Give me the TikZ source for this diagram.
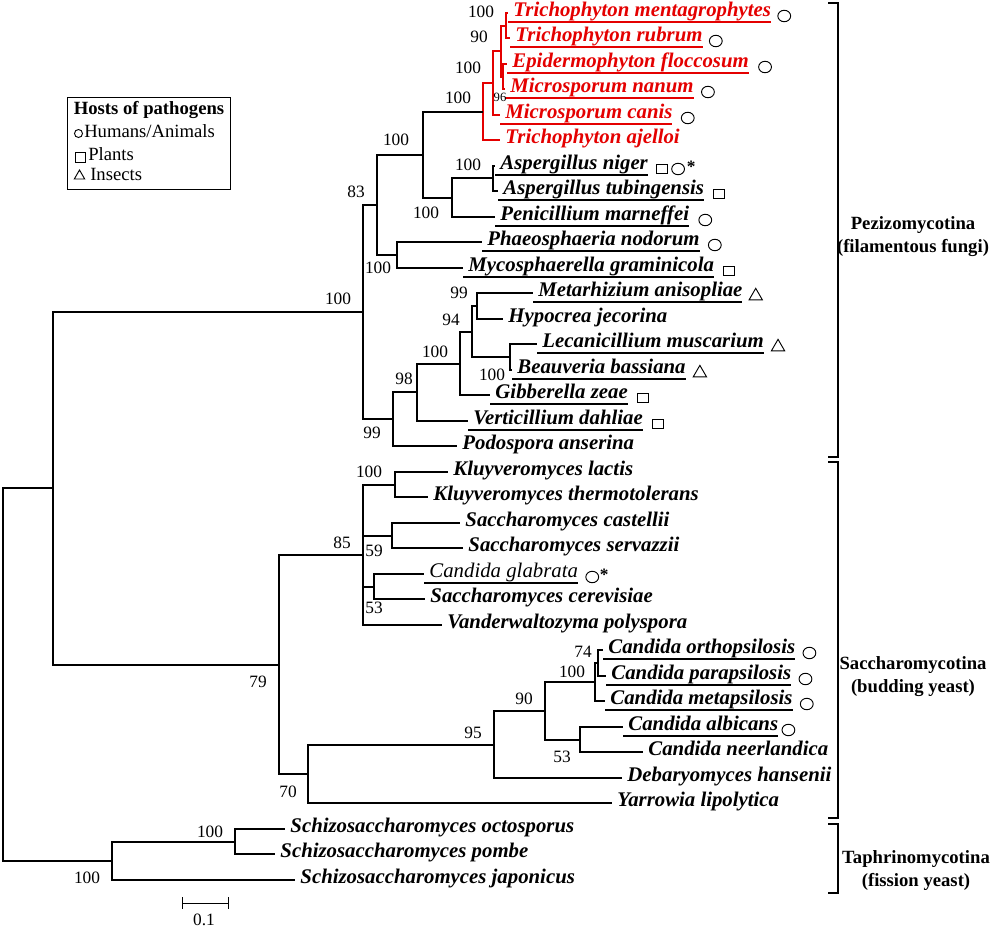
\documentclass[tikz,border=0pt]{standalone}
\usepackage{fontspec}
\setmainfont{Liberation Serif}
\usetikzlibrary{calc,shapes.geometric}
\definecolor{dred}{RGB}{228,0,0}
\newcommand\ulnm[1]{\setbox0\hbox{\ #1}\rlap{\rule[-5.4pt]{\wd0}{1.45pt}}\box0}
\newcommand\plnm[1]{\ #1}
\begin{document}
\begin{tikzpicture}[x=0.75pt,y=-0.75pt,
  br/.style={line width=1.5pt, line join=miter},
  rbr/.style={line width=1.5pt, draw=dred},
  tip/.style={anchor=mid west, inner sep=0pt, font=\fontsize{15.6}{18}\selectfont\bfseries\itshape},
  rtip/.style={tip, text=dred},
  tipr/.style={anchor=mid west, inner sep=0pt, font=\fontsize{15.6}{18}\selectfont\itshape},
  boot/.style={inner sep=0pt, font=\fontsize{13}{15}\selectfont},
  bootsm/.style={inner sep=0pt, font=\fontsize{9.5}{11}\selectfont},
  hc/.style={ellipse, draw, line width=0.7pt, minimum width=9.6pt, minimum height=8.6pt, inner sep=0pt},
  hs/.style={rectangle, draw, line width=0.7pt, minimum width=8pt, minimum height=7.4pt, inner sep=0pt},
  ht/.style={regular polygon, regular polygon sides=3, draw, line width=0.7pt, minimum size=11.5pt, inner sep=0pt},
  ast/.style={inner sep=0pt, font=\fontsize{13}{15}\selectfont\bfseries},
  brk/.style={line width=0.9pt},
  clade/.style={align=center, inner sep=0pt, font=\fontsize{14}{17.25}\selectfont\bfseries},
  leg/.style={inner sep=0pt, font=\fontsize{14}{16}\selectfont}
]
\useasboundingbox (0,0) rectangle (1004,929);

% ---------- tips ----------
\node[rtip] (t1) at (508,13) {\ulnm{Trichophyton mentagrophytes}};
\node[rtip] (t2) at (510,38) {\ulnm{Trichophyton rubrum}};
\node[rtip] (t3) at (507,64) {\ulnm{Epidermophyton floccosum}};
\node[rtip] (t4) at (505,89) {\ulnm{Microsporum nanum}};
\node[rtip] (t5) at (500,115) {\ulnm{Microsporum canis}};
\node[rtip] (t6) at (500,140) {\plnm{Trichophyton ajelloi}};
\node[tip] (t7) at (495,166) {\ulnm{Aspergillus niger}};
\node[tip] (t8) at (498,191) {\ulnm{Aspergillus tubingensis}};
\node[tip] (t9) at (495,217) {\ulnm{Penicillium marneffei}};
\node[tip] (t10) at (482,242) {\ulnm{Phaeosphaeria nodorum}};
\node[tip] (t11) at (463,268) {\ulnm{Mycosphaerella graminicola}};
\node[tip] (t12) at (533,293) {\ulnm{Metarhizium anisopliae}};
\node[tip] (t13) at (503,319) {\plnm{Hypocrea jecorina}};
\node[tip] (t14) at (537,344) {\ulnm{Lecanicillium muscarium}};
\node[tip] (t15) at (512,370) {\ulnm{Beauveria bassiana}};
\node[tip] (t16) at (490,395) {\ulnm{Gibberella zeae}};
\node[tip] (t17) at (468,421) {\ulnm{Verticillium dahliae}};
\node[tip] (t18) at (457,446) {\plnm{Podospora anserina}};
\node[tip] (t19) at (448,472) {\plnm{Kluyveromyces lactis}};
\node[tip] (t20) at (428,497) {\plnm{Kluyveromyces thermotolerans}};
\node[tip] (t21) at (460,523) {\plnm{Saccharomyces castellii}};
\node[tip] (t22) at (463,548) {\plnm{Saccharomyces servazzii}};
\node[tipr] (t23) at (424,574) {\ulnm{Candida glabrata}};
\node[tip] (t24) at (425,599) {\plnm{Saccharomyces cerevisiae}};
\node[tip] (t25) at (442,625) {\plnm{Vanderwaltozyma polyspora}};
\node[tip] (t26) at (603,650) {\ulnm{Candida orthopsilosis}};
\node[tip] (t27) at (606,676) {\ulnm{Candida parapsilosis}};
\node[tip] (t28) at (605,701) {\ulnm{Candida metapsilosis}};
\node[tip] (t29) at (623,727) {\ulnm{Candida albicans}};
\node[tip] (t30) at (643,752) {\plnm{Candida neerlandica}};
\node[tip] (t31) at (622,778) {\plnm{Debaryomyces hansenii}};
\node[tip] (t32) at (612,803) {\plnm{Yarrowia lipolytica}};
\node[tip] (t33) at (285,829) {\plnm{Schizosaccharomyces octosporus}};
\node[tip] (t34) at (275,854) {\plnm{Schizosaccharomyces pombe}};
\node[tip] (t35) at (295,880) {\plnm{Schizosaccharomyces japonicus}};

% ---------- internal nodes ----------
\coordinate (A) at (506,26);
\coordinate (B) at (503,77);
\coordinate (C) at (501,51);
\coordinate (D) at (493,83);
\coordinate (E) at (483,112);
\coordinate (F) at (493,178);
\coordinate (G) at (452,198);
\coordinate (H) at (423,155);
\coordinate (I) at (397,255);
\coordinate (J) at (377,205);
\coordinate (K) at (477,306);
\coordinate (L) at (510,357);
\coordinate (M) at (472,332);
\coordinate (N) at (460,364);
\coordinate (O) at (417,392);
\coordinate (P) at (393,419);
\coordinate (Q) at (363,312);
\coordinate (R) at (395,485);
\coordinate (S) at (392,536);
\coordinate (T) at (374,587);
\coordinate (U) at (363,555);
\coordinate (V) at (598,663);
\coordinate (W) at (595,682);
\coordinate (X) at (580,740);
\coordinate (Y) at (545,711);
\coordinate (Z) at (494,745);
\coordinate (AA) at (308,774);
\coordinate (AB) at (279,665);
\coordinate (AC) at (53,488);
\coordinate (AD) at (235,842);
\coordinate (AE) at (112,861);
\coordinate (root) at (3,674);

% ---------- branches ----------
\draw[rbr] (A) |- (t1.mid west) (A) |- (t2.mid west)
  (B) |- (t3.mid west) (B) |- (t4.mid west)
  (C) |- (A) (C) |- (B)
  (D) |- (C) (D) |- (t5.mid west)
  (E) |- (D) (E) |- (t6.mid west);
\draw[br] (H) |- (E) (H) |- (G)
  (G) |- (F) (G) |- (t9.mid west)
  (F) |- (t7.mid west) (F) |- (t8.mid west)
  (J) |- (H) (J) |- (I)
  (I) |- (t10.mid west) (I) |- (t11.mid west)
  (Q) |- (J) (Q) |- (P)
  (P) |- (O) (P) |- (t18.mid west)
  (O) |- (N) (O) |- (t17.mid west)
  (N) |- (M) (N) |- (t16.mid west)
  (M) |- (K) (M) |- (L)
  (K) |- (t12.mid west) (K) |- (t13.mid west)
  (L) |- (t14.mid west) (L) |- (t15.mid west)
  (AC) |- (Q) (AC) |- (AB)
  (AB) |- (U) (AB) |- (AA)
  (U) |- (R) (U) |- (S) (U) |- (T) (U) |- (t25.mid west)
  (R) |- (t19.mid west) (R) |- (t20.mid west)
  (S) |- (t21.mid west) (S) |- (t22.mid west)
  (T) |- (t23.mid west) (T) |- (t24.mid west)
  (AA) |- (Z) (AA) |- (t32.mid west)
  (Z) |- (Y) (Z) |- (t31.mid west)
  (Y) |- (W) (Y) |- (X)
  (W) |- (V) (W) |- (t28.mid west)
  (V) |- (t26.mid west) (V) |- (t27.mid west)
  (X) |- (t29.mid west) (X) |- (t30.mid west)
  (root) |- (AC) (root) |- (AE)
  (AE) |- (AD) (AE) |- (t35.mid west)
  (AD) |- (t33.mid west) (AD) |- (t34.mid west);

% ---------- bootstrap values ----------
\node[boot] (bA) at (481,12) {100};
\node[boot] (bC) at (479,37) {90};
\node[boot] (bD) at (468,68) {100};
\node[boot] (bE) at (458,98) {100};
\node[bootsm] (bB) at (500,97) {96};
\node[boot] (bF) at (468,165) {100};
\node[boot] (bG) at (426,213) {100};
\node[boot] (bH) at (396,140) {100};
\node[boot] (bI) at (378,268) {100};
\node[boot] (bJ) at (356,192) {83};
\node[boot] (bK) at (459,293) {99};
\node[boot] (bM) at (451,320) {94};
\node[boot] (bN) at (435,352) {100};
\node[boot] (bL) at (492,375) {100};
\node[boot] (bO) at (404,379) {98};
\node[boot] (bP) at (372,433) {99};
\node[boot] (bQ) at (338,299) {100};
\node[boot] (bR) at (369,472) {100};
\node[boot] (bU) at (342,543) {85};
\node[boot] (bS) at (374,551) {59};
\node[boot] (bT) at (374,608) {53};
\node[boot] (bAB) at (258,682) {79};
\node[boot] (bAA) at (288,792) {70};
\node[boot] (bV) at (583,652) {74};
\node[boot] (bW) at (572,672) {100};
\node[boot] (bY) at (524,699) {90};
\node[boot] (bZ) at (473,733) {95};
\node[boot] (bX) at (562,757) {53};
\node[boot] (bAD) at (210,832) {100};
\node[boot] (bAE) at (87,878) {100};

% ---------- host symbols ----------
\node[hc] (c1) at ($(t1.mid east)+(13,3)$) {};
\node[hc] (c2) at ($(t2.mid east)+(13,3)$) {};
\node[hc] (c3) at ($(t3.mid east)+(16,3)$) {};
\node[hc] (c4) at ($(t4.mid east)+(14,3)$) {};
\node[hc] (c5) at ($(t5.mid east)+(15,3)$) {};
\node[hs] (s7) at ($(t7.mid east)+(14,3)$) {};
\node[hc] (c7) at ($(s7)+(16,0)$) {};
\node[ast] (a7) at ($(c7)+(13,-2)$) {*};
\node[hs] (s8) at ($(t8.mid east)+(15,3)$) {};
\node[hc] (c9) at ($(t9.mid east)+(16,3)$) {};
\node[hc] (c10) at ($(t10.mid east)+(15,3)$) {};
\node[hs] (s11) at ($(t11.mid east)+(15,3)$) {};
\node[ht] (r12) at ($(t12.mid east)+(13,3)$) {};
\node[ht] (r14) at ($(t14.mid east)+(14,3)$) {};
\node[ht] (r15) at ($(t15.mid east)+(14,3)$) {};
\node[hs] (s16) at ($(t16.mid east)+(15,3)$) {};
\node[hs] (s17) at ($(t17.mid east)+(15,3)$) {};
\node[hc] (c23) at ($(t23.mid east)+(14,3)$) {};
\node[ast] (a23) at ($(c23)+(12,-2)$) {*};
\node[hc] (c26) at ($(t26.mid east)+(14,3)$) {};
\node[hc] (c27) at ($(t27.mid east)+(14,3)$) {};
\node[hc] (c28) at ($(t28.mid east)+(14,3)$) {};
\node[hc] (c29) at ($(t29.mid east)+(10,3)$) {};

% ---------- legend ----------
\draw[line width=0.75pt] (67,97) rectangle (230,189);
\node[leg, font=\fontsize{14}{16}\selectfont\bfseries] (legT) at (149,110) {Hosts of pathogens};
\node[hc, minimum width=6pt, minimum height=6pt] (lc) at (78.5,133.5) {};
\node[leg, anchor=mid west] (l1) at (84,134) {Humans/Animals};
\node[hs, minimum width=7.5pt, minimum height=7.5pt] (ls) at (80,157) {};
\node[leg, anchor=mid west] (l2) at (88,157.5) {Plants};
\node[ht, minimum size=9pt] (lt) at (79.5,176) {};
\node[leg, anchor=mid west] (l3) at (90,177.5) {Insects};

% ---------- clade brackets ----------
\draw[brk] (828,3) -- (838,3) -- (838,457) -- (828,457);
\draw[brk] (828,462) -- (838,462) -- (838,818) -- (828,818);
\draw[brk] (828,824) -- (838,824) -- (838,893) -- (828,893);
\node[clade] (cl1) at (913,237) {Pezizomycotina\\(filamentous fungi)};
\node[clade] (cl2) at (913,676.5) {Saccharomycotina\\(budding yeast)};
\node[clade] (cl3) at (916,870.5) {Taphrinomycotina\\(fission yeast)};

% ---------- scale bar ----------
\coordinate (sb1) at (182,903);
\coordinate (sb2) at (228,903);
\draw[line width=0.75pt] (sb1) -- (sb2)
  ($(sb1)+(0,-6)$) -- ($(sb1)+(0,6)$)
  ($(sb2)+(0,-6)$) -- ($(sb2)+(0,6)$);
\node[boot] (sbl) at (204,920) {0.1};
\end{tikzpicture}
\end{document}
